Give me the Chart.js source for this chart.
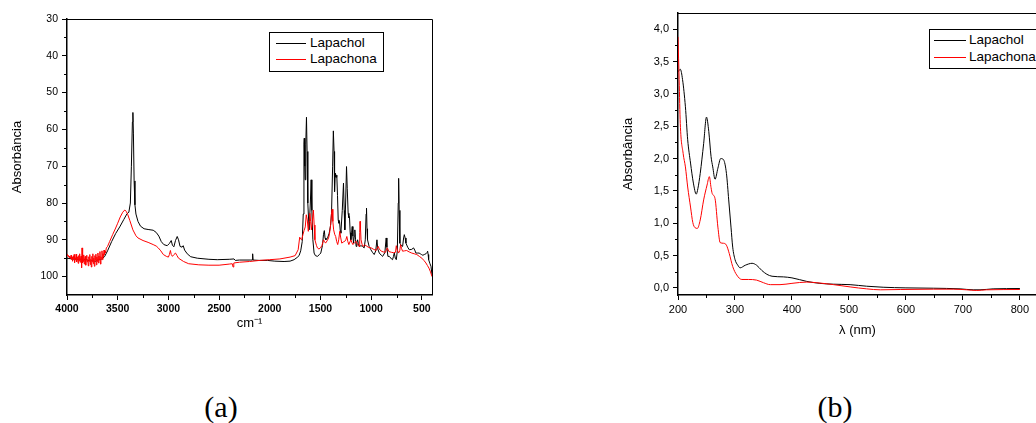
<!DOCTYPE html>
<html><head><meta charset="utf-8">
<script src="https://cdn.jsdelivr.net/npm/chart.js@4.4.0/dist/chart.umd.min.js"></script>
<style>
html,body{margin:0;padding:0;width:1036px;height:423px;overflow:hidden;background:#fff;}
canvas{position:absolute;top:0;}
#irChart{left:0;}
#uvChart{left:600px;}
.box{position:absolute;border:1px solid #000;background:#fff;box-sizing:border-box;}
.sample{position:absolute;height:0;border-top:1px solid;}
.ltext{position:absolute;height:16px;line-height:16px;white-space:nowrap;font-family:"Liberation Sans",Arial,sans-serif;font-size:13.5px;color:#000;}
.caption{position:absolute;font-family:"Liberation Serif","Times New Roman",serif;font-size:30px;color:#000;transform:translate(-50%,-50%);white-space:nowrap;}
</style></head>
<body>
<canvas id="irChart" width="440" height="345"></canvas>
<canvas id="uvChart" width="440" height="345"></canvas>

<div class="box" style="left:269px;top:32px;width:115px;height:40px;"></div>
<div class="sample" style="left:276px;top:43px;width:30px;border-color:#000;"></div>
<div class="ltext" style="left:310px;top:35px;">Lapachol</div>
<div class="sample" style="left:276px;top:59px;width:30px;border-color:#ff0000;"></div>
<div class="ltext" style="left:310px;top:51px;">Lapachona</div>

<div class="box" style="left:929px;top:29px;width:200px;height:40px;"></div>
<div class="sample" style="left:934px;top:40px;width:32px;border-color:#000;"></div>
<div class="ltext" style="left:969px;top:32px;">Lapachol</div>
<div class="sample" style="left:934px;top:57px;width:32px;border-color:#ff0000;"></div>
<div class="ltext" style="left:969px;top:49px;">Lapachona</div>

<div class="caption" style="left:221px;top:407px;">(a)</div>
<div class="caption" style="left:835px;top:407px;">(b)</div>

<script>
// ---------- DATA ----------
const seriesNames = ['Lapachol', 'Lapachona'];

// IR spectrum (a): [wavenumber cm-1, value]
const lapacholIR = [[4000,95.0],[3950,95.2],[3900,95.4],[3870,95.2],[3850,95.7],[3820,95.3],[3800,95.5],[3770,95.8],[3750,95.6],[3720,95.9],[3700,95.5],[3660,95.3],[3630,94.6],[3600,93.0],[3560,90.5],[3520,88.3],[3480,86.5],[3440,84.5],[3410,83.0],[3390,82.5],[3375,80],[3365,70],[3355,58],[3350,55.4],[3345,61],[3338,74],[3330,80.5],[3320,83],[3300,85],[3275,86.3],[3240,87.0],[3200,87.2],[3150,87.4],[3120,88.0],[3094,89.0],[3070,90.5],[3045,91.3],[3012,91.6],[2990,91.0],[2972,90.2],[2960,91.5],[2946,91.9],[2930,90.2],[2913,89.1],[2900,90.0],[2885,91.8],[2865,92.0],[2854,91.6],[2840,92.8],[2814,93.8],[2780,94.6],[2715,95.0],[2600,95.3],[2518,95.4],[2400,95.3],[2353,95.2],[2340,95.6],[2300,95.5],[2188,95.5],[2172,95.5],[2169,93.8],[2165,95.5],[2100,95.6],[2024,95.6],[1950,95.8],[1859,95.9],[1800,95.8],[1760,95.4],[1730,94.8],[1711,94.3],[1695,93.0],[1680,90.5],[1670,83],[1663,64],[1660,62.4],[1655,70],[1651,73.7],[1645,64],[1638,56.7],[1632,66],[1625,80],[1612,87.3],[1600,80],[1592,73.7],[1585,82],[1575,90],[1563,93.6],[1550,94.3],[1530,94.5],[1510,94.0],[1497,93.6],[1480,91.5],[1470,88.5],[1462,87.5],[1455,89.5],[1447,90.0],[1430,89.5],[1414,88.2],[1400,86],[1391,82.8],[1380,70],[1373,60.4],[1366,66],[1361,76.9],[1356,73],[1352,71.9],[1345,73],[1339,72.4],[1332,78],[1325,84.6],[1318,85.5],[1312,85.0],[1305,87.5],[1299,88.2],[1285,82],[1273,74.6],[1266,82],[1260,87.3],[1252,80],[1243,70.1],[1236,76],[1227,82.8],[1220,84],[1214,83.7],[1207,88],[1200,90],[1193,88],[1187,86.4],[1180,89],[1174,90.9],[1167,89],[1161,87.3],[1154,90],[1148,91.8],[1141,90.8],[1134,90],[1126,91],[1118,91.8],[1100,91.6],[1085,91.8],[1069,92.2],[1058,90],[1050,83],[1046,81.4],[1041,87],[1036,90],[1020,91.8],[1003,92.7],[985,93.5],[970,94.0],[955,93.0],[943,90],[935,92.5],[920,93.6],[900,94.2],[887,94.5],[865,93.5],[852,89.5],[845,92],[835,94.5],[821,94.5],[800,95.2],[789,95.4],[780,94.5],[772,93.6],[762,95.0],[752,95.4],[742,93],[733,80],[729,73.3],[724,82],[717,90.9],[705,91.5],[690,91.8],[680,89.5],[673,88.6],[665,89.5],[657,90.9],[640,92.0],[624,92.7],[600,92.6],[582,92.2],[570,92.8],[559,93.6],[540,93.6],[527,93.6],[515,93.8],[504,94.0],[490,94.2],[476,94.0],[460,93.8],[450,93.5],[443,93.1],[438,94],[433,95.4],[420,96.5],[410,97.2],[400,99.5]];

const lapachonaIR = [[4000,94.2],[3995,94.0],[3990,94.5],[3985,94.3],[3980,94.8],[3975,94.4],[3970,95.0],[3965,94.6],[3960,94.2],[3955,95.3],[3950,94.7],[3945,95.8],[3940,94.5],[3935,95.1],[3930,94.0],[3925,96.2],[3920,94.9],[3915,95.5],[3910,93.9],[3905,96.0],[3900,95.2],[3895,94.6],[3890,96.4],[3885,94.3],[3880,95.7],[3875,93.8],[3870,96.1],[3865,95.0],[3860,94.4],[3856,97.6],[3852,92.2],[3848,96.3],[3844,94.8],[3840,95.9],[3835,94.1],[3830,96.6],[3825,95.2],[3820,94.5],[3815,96.9],[3810,95.0],[3805,94.2],[3800,96.0],[3795,95.4],[3790,97.1],[3785,94.6],[3780,95.8],[3775,94.0],[3770,96.7],[3765,95.3],[3760,97.4],[3755,94.5],[3750,96.0],[3745,93.8],[3740,96.5],[3735,95.0],[3730,97.2],[3725,94.3],[3720,95.6],[3715,93.9],[3710,96.8],[3705,94.7],[3700,95.9],[3695,93.6],[3690,96.3],[3685,94.4],[3680,95.5],[3675,93.2],[3670,96.6],[3665,94.6],[3660,95.1],[3655,93.0],[3650,95.4],[3645,93.8],[3640,94.6],[3635,92.8],[3630,94.0],[3625,93.1],[3620,93.5],[3612,92.2],[3600,91.8],[3580,90.5],[3550,88.6],[3520,86.8],[3500,85.5],[3475,83.8],[3450,82.5],[3430,81.9],[3415,82.3],[3400,83.2],[3380,84.8],[3350,87.3],[3320,88.9],[3300,89.5],[3250,90.2],[3200,90.7],[3150,91.3],[3120,91.7],[3100,92.2],[3075,93.0],[3050,94.0],[3020,94.5],[3000,94.7],[2990,94.0],[2980,92.9],[2972,94.0],[2960,94.5],[2945,94.0],[2930,93.6],[2915,94.3],[2900,95.0],[2850,95.9],[2800,96.5],[2700,96.8],[2600,96.9],[2500,96.9],[2400,96.6],[2370,96.5],[2362,97.4],[2355,96.3],[2300,96.1],[2200,95.9],[2100,95.6],[2000,95.4],[1900,95.2],[1800,94.7],[1750,94.3],[1720,92.7],[1705,89.3],[1695,89.8],[1685,90.0],[1672,88.5],[1662,87.5],[1650,86.5],[1640,83.2],[1630,84.6],[1620,87.7],[1612,85],[1605,82.8],[1597,85],[1590,87.3],[1580,85],[1570,81.9],[1562,86],[1555,90],[1540,91.5],[1530,92.2],[1515,92.5],[1500,92.2],[1485,91.5],[1470,90.0],[1460,90.5],[1450,90.9],[1435,90.3],[1420,89.5],[1410,88.2],[1400,85.9],[1392,83],[1385,81.7],[1378,85],[1370,87.3],[1360,88.5],[1350,89.1],[1340,90.5],[1330,91.3],[1320,90],[1310,87.7],[1300,89.5],[1290,90.9],[1275,90.6],[1260,90.4],[1250,90.0],[1240,89.1],[1230,90.5],[1220,91.3],[1210,90.6],[1200,90.0],[1190,90.8],[1180,91.3],[1165,90.8],[1150,90.4],[1135,91.2],[1120,91.8],[1113,88],[1110,85.0],[1105,87],[1100,90.0],[1090,91.2],[1080,91.8],[1065,91.4],[1050,91.6],[1030,92.0],[1000,92.2],[975,92.6],[950,92.9],[940,92.2],[930,91.8],[920,92.5],[900,93.1],[880,93.3],[860,93.4],[850,92.8],[840,92.2],[825,93.2],[800,93.4],[780,93.5],[760,93.4],[752,91.6],[745,92.5],[730,93.6],[718,93.0],[710,91.3],[700,92.4],[690,93.1],[670,93.0],[650,92.9],[625,93.3],[600,93.6],[575,93.8],[550,94.0],[525,94.5],[500,95.0],[480,95.6],[460,96.3],[445,97.0],[430,97.7],[415,98.7],[400,100]];

// UV-Vis spectrum (b): [wavelength nm, absorbance]
const lapacholUV = [[200,3.34],[204,3.38],[208,3.22],[213,2.80],[217,2.29],[222,1.93],[227,1.62],[232,1.45],[235,1.54],[239,1.77],[245,2.23],[250,2.64],[254,2.42],[258,2.03],[261,1.87],[265,1.68],[270,1.85],[275,2.00],[280,1.98],[285,1.77],[289,1.36],[293,0.94],[296,0.63],[300,0.44],[305,0.35],[309,0.31],[318,0.35],[330,0.38],[338,0.35],[347,0.27],[356,0.21],[365,0.18],[385,0.17],[400,0.155],[426,0.10],[449,0.07],[473,0.057],[502,0.05],[531,0.026],[560,0.01],[600,0],[648,-0.005],[695,-0.015],[718,-0.03],[730,-0.03],[753,-0.015],[800,-0.01]];

const lapachonaUV = [[200,3.88],[202,3.22],[204,2.54],[209,2.08],[213,1.87],[217,1.56],[222,1.25],[226,1.01],[230,0.93],[234,0.92],[239,1.05],[245,1.36],[251,1.59],[255,1.72],[258,1.55],[260,1.46],[265,1.38],[270,0.94],[274,0.70],[280,0.69],[285,0.66],[290,0.53],[296,0.33],[303,0.20],[312,0.13],[324,0.13],[338,0.12],[350,0.08],[362,0.05],[379,0.05],[400,0.07],[426,0.09],[443,0.08],[473,0.05],[502,0.015],[531,-0.015],[555,-0.03],[590,-0.025],[648,-0.02],[683,-0.02],[707,-0.03],[724,-0.04],[741,-0.03],[800,-0.025]];

// Tick values and labels
const irXTicks = [4000,3500,3000,2500,2000,1500,1000,500];
const irXTickLabels = ['4000','3500','3000','2500','2000','1500','1000','500'];
const irXMinor = [3750,3250,2750,2250,1750,1250,750];
const irYTicks = [30,40,50,60,70,80,90,100];
const irYTickLabels = ['30','40','50','60','70','80','90','100'];
const irYMinor = [35,45,55,65,75,85,95];
const uvXTicks = [200,300,400,500,600,700,800];
const uvXTickLabels = ['200','300','400','500','600','700','800'];
const uvXMinor = [250,350,450,550,650,750];
const uvYTicks = [0,0.5,1,1.5,2,2.5,3,3.5,4];
const uvYTickLabels = ['0,0','0,5','1,0','1,5','2,0','2,5','3,0','3,5','4,0'];
const uvYMinor = [0.25,0.75,1.25,1.75,2.25,2.75,3.25,3.75];

// ---------- CHARTS ----------
const FONT = '"Liberation Sans", Arial, sans-serif';
const toPts = arr => arr.map(p => ({x: p[0], y: p[1]}));
const labelFor = (vals, labels) => v => { const i = vals.findIndex(t => Math.abs(t - v) < 1e-9); return i >= 0 ? labels[i] : ''; };

const framePlugin = {
  id: 'frame',
  afterDraw(chart, args, opts) {
    const {ctx, chartArea: a, scales} = chart;
    ctx.save();
    ctx.strokeStyle = '#000';
    ctx.lineWidth = 1;
    ctx.beginPath();
    ctx.moveTo(Math.round(a.left), Math.round(a.top) + 0.5);
    ctx.lineTo(Math.round(a.right) + 0.5, Math.round(a.top) + 0.5);
    ctx.lineTo(Math.round(a.right) + 0.5, Math.round(a.bottom));
    ctx.stroke();
    ctx.beginPath();
    (opts.xMinor || []).forEach(v => {
      const x = Math.round(scales.x.getPixelForValue(v)) + 0.5;
      ctx.moveTo(x, a.bottom); ctx.lineTo(x, a.bottom + 3);
    });
    (opts.yMinor || []).forEach(v => {
      const y = Math.round(scales.y.getPixelForValue(v)) + 0.5;
      ctx.moveTo(a.left, y); ctx.lineTo(a.left - 3, y);
    });
    ctx.stroke();
    ctx.restore();
  }
};

function axis(opts) {
  return {
    type: 'linear',
    min: opts.min, max: opts.max, reverse: !!opts.reverse,
    afterBuildTicks: s => { s.ticks = opts.ticks.map(v => ({value: v})); },
    afterFit: s => { if (opts.height) s.height = opts.height; if (opts.width) s.width = opts.width; },
    ticks: {
      color: '#000', autoSkip: false, maxRotation: 0, padding: opts.tickPad,
      font: {family: FONT, size: opts.fontSize, weight: opts.bold ? 'bold' : 'normal'},
      callback: labelFor(opts.ticks, opts.labels)
    },
    grid: {drawOnChartArea: false, drawTicks: true, tickLength: 5, tickColor: '#000', tickWidth: 1},
    border: {display: true, color: '#000', width: 1.5},
    title: {display: true, text: opts.title, color: '#000', font: {family: FONT, size: 13}, padding: opts.titlePad}
  };
}

function lineSet(label, data, color, order, smooth) {
  return {label, data: toPts(data), borderColor: color, backgroundColor: color, borderWidth: 1,
    pointRadius: 0, fill: false, order, tension: smooth ? 0.4 : 0,
    cubicInterpolationMode: smooth ? 'monotone' : 'default'};
}

new Chart(document.getElementById('irChart'), {
  type: 'line',
  data: {datasets: [
    lineSet(seriesNames[0], lapacholIR, '#000000', 2, false),
    lineSet(seriesNames[1], lapachonaIR, '#ff0000', 1, false)
  ]},
  options: {
    responsive: false, animation: false,
    layout: {padding: {left: 6, top: 19, right: 8, bottom: 0}},
    plugins: {legend: {display: false}, tooltip: {enabled: false}, frame: {xMinor: irXMinor, yMinor: irYMinor}},
    scales: {
      x: axis({min: 400, max: 4000, reverse: true, ticks: irXTicks, labels: irXTickLabels, fontSize: 10.5, bold: true, tickPad: 3, height: 50, title: 'cm\u207B\u00B9', titlePad: {top: 0, bottom: 14}}),
      y: axis({min: 30, max: 105, reverse: true, ticks: irYTicks, labels: irYTickLabels, fontSize: 10.5, tickPad: 4, width: 61, title: 'Absorbância', titlePad: {top: 4, bottom: 4}})
    }
  },
  plugins: [framePlugin]
});

new Chart(document.getElementById('uvChart'), {
  type: 'line',
  data: {datasets: [
    lineSet(seriesNames[0], lapacholUV, '#000000', 2, true),
    lineSet(seriesNames[1], lapachonaUV, '#ff0000', 1, true)
  ]},
  options: {
    responsive: false, animation: false,
    layout: {padding: {left: 17, top: 13, right: 3, bottom: 0}},
    plugins: {legend: {display: false}, tooltip: {enabled: false}, frame: {xMinor: uvXMinor, yMinor: uvYMinor}},
    scales: {
      x: axis({min: 200, max: 830, ticks: uvXTicks, labels: uvXTickLabels, fontSize: 11, tickPad: 3, height: 50, title: 'λ (nm)', titlePad: {top: 0, bottom: 7}}),
      y: axis({min: -0.11, max: 4.25, ticks: uvYTicks, labels: uvYTickLabels, fontSize: 11, tickPad: 4, width: 61, title: 'Absorbância', titlePad: {top: 4, bottom: 4}})
    }
  },
  plugins: [framePlugin]
});
</script>
</body></html>
